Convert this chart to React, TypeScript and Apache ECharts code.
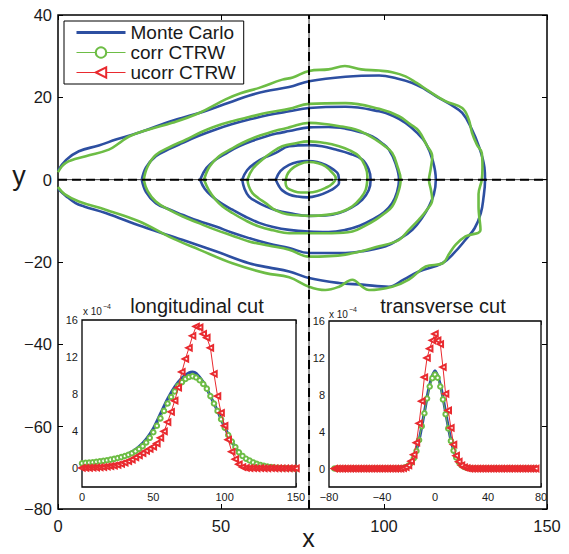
import React, { useEffect, useRef } from 'react';
import * as echarts from 'echarts';

const FONT = '"Liberation Sans", Arial, Helvetica, sans-serif';
const BLUE = '#2d4fa1';
const GREEN = '#6dbd45';
const RED = '#e92a2f';
const INK = '#1a1a1a';

const legendNames = ['Monte Carlo', 'corr CTRW', 'ucorr CTRW'];

// ---------- main plot: iso-contours (x, y) ----------
const mc1 = [[0,2.2],[2.5,4.8],[6.4,6.9],[12.5,8.3],[18,9.8],[22.8,10.9],[28,12.3],[33,13.8],[38,15],[43.3,16.2],[48.5,17.6],[53.5,19],[58.5,20.4],[63.7,21.5],[70.9,22.5],[77,23.9],[88.2,25],[98.5,25.3],[104,24.6],[108.7,23.5],[112.5,22],[115.9,20.3],[120.5,18.2],[124,16.2],[126.8,12.5],[129.1,8.1],[130.8,3],[131,0],[130.5,-4.5],[129.7,-8.1],[127.8,-11.8],[125,-14.6],[121.5,-17.8],[117.9,-20.3],[110.7,-22.3],[106,-24.3],[101.5,-26],[93.3,-25.5],[86.2,-25.1],[77,-23.9],[70.9,-22.3],[64.5,-21.3],[58.6,-20.3],[48.4,-17.4],[38.1,-14.6],[25.9,-11.4],[14.6,-8.1],[8,-6.5],[5.4,-5.7],[2.5,-4],[0,-2.2]];
const ct1 = [[0,1.8],[2.4,4.1],[8.5,5.7],[15.6,7.3],[19,9],[21.8,10.5],[27.9,12.2],[35,13.8],[43.3,16.2],[51.4,19.5],[56,21],[61.7,22.3],[68.8,24.3],[72,24.8],[77,26.4],[83,26.8],[88,27.6],[93,26.8],[98.5,26.5],[102.5,26.1],[106.6,25.1],[110,23.5],[113.8,21.5],[119,19],[124,17.4],[126,14.6],[127,11.4],[128.5,8.5],[130,6.5],[130.2,3],[130,0],[129,-3.5],[129,-6.5],[129.6,-12.2],[125,-13.8],[122,-15.8],[120,-18],[118,-20.3],[112.8,-21.1],[107.6,-24.3],[102.5,-26],[95.4,-26.8],[93.3,-26],[90.3,-24.3],[86.2,-26],[82,-26.8],[77,-26],[70.9,-23.7],[63.7,-22.7],[53.5,-20.3],[43.3,-17],[35,-14.2],[24.8,-10.1],[14.6,-7.3],[6.4,-5.3],[2,-3.5],[0,-1.8]];
const mc2 = [[25.7,0],[27,3],[30,5.7],[34,7.4],[38.1,8.9],[43,10.6],[48.4,12.2],[53.5,13.5],[58.6,14.6],[64.5,15.7],[70.9,16.6],[77,17.4],[88.2,17.7],[98.5,16.6],[103,15.4],[106.6,13.8],[110,11.5],[112.8,8.9],[115,4.5],[115.9,0],[115.3,-3.5],[113.8,-6.5],[111.5,-9.5],[108.7,-12.2],[105,-14.3],[100.5,-16.2],[94,-17.3],[88.2,-17.8],[77,-17.8],[70.9,-16.6],[64.5,-15.5],[58.6,-14.2],[53.5,-12.9],[48.4,-11.4],[43,-10],[38.1,-8.5],[34,-7.2],[30,-5.7],[27,-3],[25.7,0]];
const ct2 = [[26.3,0],[27.5,3.2],[30,6],[34.5,8],[39.2,9.7],[43.5,11.4],[48.4,13],[53.5,14.2],[58.6,15.2],[64.5,16.3],[70.9,17.2],[77,18.4],[88.2,18.6],[98.5,17.2],[104.6,15.4],[108,13.5],[110.7,11.8],[113,8.5],[114.8,5.7],[114.3,2.5],[113.8,0],[114.4,-2.5],[114.8,-4.9],[113,-7.5],[110.7,-9.7],[107.5,-12.3],[104.6,-14.6],[98.5,-16.2],[88.2,-18.2],[77,-18.7],[70.9,-17],[64.5,-16],[58.6,-15],[53.5,-13.6],[48.4,-12.2],[43,-10.5],[38.1,-8.9],[34,-7.3],[30,-5.3],[27.5,-2.8],[26.3,0]];
const mc3 = [[43.6,0],[45.5,2.8],[48.4,4.9],[52,6.6],[55.5,8.1],[59.5,9.4],[63.7,10.5],[67,11.2],[70.9,11.8],[77,12.7],[83,12.8],[88.2,12.4],[92.5,11.6],[96.4,10.5],[99.5,8.8],[101.5,7.3],[103.5,4],[104.6,0],[104,-3],[102.5,-5.7],[100,-7.9],[96.4,-9.7],[92.5,-11.2],[88.2,-12.2],[83,-12.7],[77,-12.6],[70.9,-12.2],[66,-11.5],[61.7,-10.5],[57.5,-9],[53.5,-7.3],[50,-5.7],[47.3,-4.1],[45,-2.2],[43.6,0]];
const ct3 = [[44.8,0],[46.5,3.2],[49.4,5.7],[53,7.4],[56.5,8.9],[60.5,10.3],[64.7,11.4],[67.8,12.1],[70.9,12.7],[77,13.8],[83.1,13.4],[87,12.9],[91.3,12.2],[94.5,11.1],[97.5,9.7],[100.2,8.2],[102.5,6.5],[104,3.5],[105.1,0],[104.2,-3.5],[102.5,-6.5],[100,-8.3],[97.5,-9.7],[94,-11.3],[90.3,-12.6],[84,-13],[77,-13],[70.9,-13],[66,-12.3],[61.7,-11.4],[57.5,-9.9],[53.5,-8.1],[50.5,-6.5],[48.4,-4.9],[46.3,-2.6],[44.8,0]];
const mc4 = [[56.5,0],[58,2.3],[60.6,4.1],[63.5,5.4],[66.8,6.5],[70.9,8.1],[77,8.4],[81,8.1],[85.2,7.3],[89.5,6.3],[93.3,4.9],[95.3,2.5],[95.9,0],[95.3,-2.6],[93.3,-4.9],[90,-6.8],[86.2,-8.1],[82,-8.7],[77,-8.8],[70.9,-8.1],[66.8,-7.4],[63.7,-6.5],[61,-5.4],[58.6,-4.1],[57.2,-2.2],[56.5,0]];
const ct4 = [[58.1,0],[59.8,2.7],[62.7,4.9],[65.5,6.6],[68.8,8.1],[72.5,8.8],[77,9.3],[82,8.9],[86.2,8.1],[89.5,7.1],[92.3,5.7],[94.2,3.3],[94.9,0.8],[94.4,-2.4],[92.5,-4.8],[90.3,-6.5],[87,-7.8],[83.1,-8.5],[77,-8.8],[72,-8.6],[68.8,-8.1],[66,-7.1],[63.7,-5.7],[61.5,-4.5],[59.6,-3.2],[58.5,-1.5],[58.1,0]];
const mc5 = [[66.8,0],[68.2,2.1],[70.9,3.6],[73.5,4.3],[76.5,4.5],[79.5,4.3],[82.1,3.6],[84.4,2.5],[86,1.2],[86.2,-0.8],[85,-1.9],[83.1,-2.8],[80,-3.8],[76.5,-4.3],[73.5,-4.1],[70.9,-3.6],[68.8,-2.6],[67.8,-1.6],[66.8,0]];
const ct5 = [[69.8,-0.8],[70.2,1],[71.4,2.4],[73.8,3.7],[77,4.3],[79.8,4],[82.1,3.2],[84,1.8],[85.2,0.4],[84,-1.1],[82.1,-2],[79.5,-2.8],[77,-3.1],[74.5,-3.1],[72.4,-2.8],[70.3,-2],[69.8,-0.8]];
const mcContours = [mc1, mc2, mc3, mc4, mc5];
const ctContours = [ct1, ct2, ct3, ct4, ct5];

// dashed cross-hairs (cut positions)
const cutX = 77;
const cutY = 0;

// ---------- inset 1: longitudinal cut (values x 1e-4) ----------
const longX = [0,2.5,5,7.5,10,12.5,15,17.5,20,22.5,25,27.5,30,32.5,35,37.5,40,42.5,45,47.5,50,52.5,55,57.5,60,62.5,65,67.5,70,72.5,75,77.5,80,82.5,85,87.5,90,92.5,95,97.5,100,102.5,105,107.5,110,112.5,115,117.5,120,122.5,125,127.5,130,132.5,135,137.5,140,142.5,145,147.5,150];
const longCorr = [0.55,0.6,0.63,0.67,0.72,0.77,0.82,0.88,0.95,1.03,1.12,1.22,1.34,1.48,1.64,1.85,2.1,2.4,2.8,3.3,3.9,4.6,5.4,6.2,7.0,7.7,8.3,8.9,9.3,9.65,9.85,9.95,9.8,9.5,9.1,8.6,7.8,7.0,6.2,5.3,4.4,3.6,2.9,2.3,1.75,1.35,1.05,0.85,0.65,0.5,0.38,0.28,0.2,0.14,0.09,0.06,0.04,0.03,0.02,0.01,0.01];
const longUcorr = [0.05,0.05,0.06,0.08,0.1,0.12,0.15,0.2,0.25,0.3,0.38,0.5,0.62,0.8,0.95,1.2,1.4,1.65,1.9,2.1,2.35,2.7,3.3,4.0,5.0,6.1,7.3,8.7,10.4,11.8,13.0,14.3,15.3,15.2,14.5,14.1,13.0,10.2,7.8,6.0,4.6,3.1,1.8,1.0,0.45,0.15,0.05,0.03,0.03,0.02,0.03,0.02,0.02,0.03,0.02,0.02,0.02,0.01,0.02,0.02,0.01];
const longMcX = [0,5,10,15,20,25,30,35,40,45,50,55,60,65,70,75,77.5,80,85,90,95,100,105,110,115,120,125,130,135,140,145,150];
const longMc = [0.5,0.6,0.7,0.82,0.97,1.17,1.42,1.8,2.35,3.15,4.3,5.9,7.5,8.8,9.75,10.3,10.4,10.25,9.3,7.8,6.2,4.45,2.9,1.75,1.05,0.62,0.36,0.19,0.09,0.04,0.02,0.01];

// ---------- inset 2: transverse cut (values x 1e-4) ----------
const transX = [-76,-74,-72,-70,-68,-66,-64,-62,-60,-58,-56,-54,-52,-50,-48,-46,-44,-42,-40,-38,-36,-34,-32,-30,-28,-26,-24,-22,-20,-18,-16,-14,-12,-10,-8,-6,-4,-2,0,2,4,6,8,10,12,14,16,18,20,22,24,26,28,30,32,34,36,38,40,42,44,46,48,50,52,54,56,58,60,62,64,66,68,70,72,74,76];
const transCorr = [0,0,0,0,0,0,0,0,0,0,0,0,0,0,0,0,0,0,0,0,0,0,0,0,0.01,0.03,0.07,0.15,0.32,0.62,1.12,1.9,3.1,4.6,6.0,7.6,8.9,9.8,10.2,9.85,8.9,7.5,5.9,4.35,3.0,1.95,1.2,0.68,0.36,0.17,0.08,0.03,0.01,0,0,0,0,0,0,0,0,0,0,0,0,0,0,0,0,0,0,0,0,0,0,0,0];
const transUcorr = [0,0,0,0,0,0,0,0,0,0,0,0,0,0,0,0,0,0,0,0,0,0,0,0,0,0,0.05,0.15,0.35,0.8,1.5,2.8,4.9,7.3,9.9,12.0,13.0,13.9,14.6,13.9,13.5,11.0,8.1,6.3,4.4,2.6,1.4,0.75,0.35,0.12,0.04,0,0,0,0,0,0,0,0,0,0,0,0,0,0,0,0,0,0,0,0,0,0,0,0,0,0];
const transMcX = [-76,-40,-32,-28,-24,-20,-16,-12,-8,-4,0,4,8,12,16,20,24,28,32,40,76];
const transMc = [0,0,0,0.01,0.08,0.34,1.2,3.1,6.1,9.1,10.6,9.1,6.1,3.1,1.2,0.35,0.08,0.01,0,0,0];

const insetYLabels = [0, 4, 8, 12, 16];
const insetYRightTicks = [2, 6, 10, 14];

const zip = (xs: number[], ys: number[]) => xs.map((x, i) => [x, ys[i]]);
const fmt = (v: number) => (v < 0 ? '\u2212' + Math.abs(v) : String(v));

const valueAxis = (extra: any) => ({
  type: 'value',
  axisLine: { show: false, onZero: false },
  splitLine: { show: false },
  axisTick: { show: true, inside: true, length: 5, lineStyle: { color: '#000', width: 1 } },
  axisLabel: { color: INK, fontFamily: FONT, formatter: fmt },
  ...extra,
});

export default function App() {
  const ref = useRef<HTMLDivElement>(null);
  useEffect(() => {
    document.body.style.margin = '0';
    const chart = echarts.init(ref.current!, null, { renderer: 'svg' });

    const series: any[] = [];
    mcContours.forEach((c, i) => {
      series.push({
        type: 'line', name: legendNames[0], xAxisIndex: 0, yAxisIndex: 0, data: c,
        smooth: 0.4, showSymbol: false, symbol: 'none', silent: true, z: 2,
        lineStyle: { color: BLUE, width: 2.6 }, itemStyle: { color: BLUE },
      });
      series.push({
        type: 'line', name: legendNames[1], xAxisIndex: 0, yAxisIndex: 0, data: ctContours[i],
        smooth: 0.4, showSymbol: false, symbol: 'emptyCircle', silent: true, z: 3,
        lineStyle: { color: GREEN, width: 2.6 }, itemStyle: { color: GREEN },
      });
    });
    // cross-hair lines
    const hLine = [[0, cutY], [150, cutY]];
    const vLine = [[cutX, -80], [cutX, 40]];
    [hLine, vLine].forEach((d) => {
      series.push({ type: 'line', xAxisIndex: 0, yAxisIndex: 0, data: d, symbol: 'none', silent: true, z: 4,
        lineStyle: { color: '#000', width: 0.8 } });
      series.push({ type: 'line', xAxisIndex: 0, yAxisIndex: 0, data: d, symbol: 'none', silent: true, z: 4,
        lineStyle: { color: '#000', width: 2, type: [9, 5] } });
    });
    // insets
    const insets = [
      { xi: 2, yi: 2, mc: zip(longMcX, longMc), corr: zip(longX, longCorr), ucorr: zip(longX, longUcorr) },
      { xi: 4, yi: 4, mc: zip(transMcX, transMc), corr: zip(transX, transCorr), ucorr: zip(transX, transUcorr) },
    ];
    insets.forEach((s) => {
      series.push({ type: 'line', name: legendNames[0], xAxisIndex: s.xi, yAxisIndex: s.yi, data: s.mc,
        smooth: 0.3, showSymbol: false, symbol: 'none', silent: true, z: 5,
        lineStyle: { color: BLUE, width: 3 } });
      series.push({ type: 'line', name: legendNames[1], xAxisIndex: s.xi, yAxisIndex: s.yi, data: s.corr,
        symbol: 'emptyCircle', symbolSize: 4.5, silent: true, z: 6,
        lineStyle: { color: GREEN, width: 1 }, itemStyle: { color: GREEN, borderWidth: 1 } });
      series.push({ type: 'line', name: legendNames[2], xAxisIndex: s.xi, yAxisIndex: s.yi, data: s.ucorr,
        symbol: 'emptyTriangle', symbolRotate: 90, symbolSize: 5.5, silent: true, z: 7,
        lineStyle: { color: RED, width: 1 }, itemStyle: { color: RED, borderWidth: 1.2 } });
    });

    const insetLabel = { fontSize: 11, margin: 4 };
    const gridBase = { show: true, borderColor: '#000', containLabel: false, outerBoundsMode: 'none' };
    const option: any = {
      animation: false,
      textStyle: { fontFamily: FONT },
      grid: [
        { ...gridBase, left: 58, top: 15, width: 489, height: 494, borderWidth: 1.5 },
        { ...gridBase, left: 82, top: 320, width: 214, height: 167, borderWidth: 1.3, backgroundColor: '#fff', z: 4 },
        { ...gridBase, left: 329, top: 321, width: 212, height: 166, borderWidth: 1.3, backgroundColor: '#fff', z: 4 },
      ],
      xAxis: [
        valueAxis({ gridIndex: 0, min: 0, max: 150, interval: 50, name: 'x', nameLocation: 'middle', nameGap: 16,
          nameMoveOverlap: false,
          nameTextStyle: { fontSize: 25, color: INK, fontFamily: FONT, padding: [0, 0, 0, 12] },
          axisLabel: { color: INK, fontFamily: FONT, fontSize: 16.5, margin: 8, formatter: fmt } }),
        valueAxis({ gridIndex: 0, min: 0, max: 150, interval: 50, position: 'top', axisLabel: { show: false } }),
        valueAxis({ gridIndex: 1, min: 0, max: 150, interval: 50, axisTick: { show: true, inside: true, length: 4 },
          axisLabel: { color: INK, fontFamily: FONT, formatter: fmt, ...insetLabel } }),
        valueAxis({ gridIndex: 1, min: 0, max: 150, interval: 50, position: 'top', axisTick: { show: true, inside: true, length: 4 }, axisLabel: { show: false } }),
        valueAxis({ gridIndex: 2, min: -80, max: 80, interval: 40, axisTick: { show: true, inside: true, length: 4 },
          axisLabel: { color: INK, fontFamily: FONT, formatter: fmt, ...insetLabel } }),
        valueAxis({ gridIndex: 2, min: -80, max: 80, interval: 40, position: 'top', axisTick: { show: true, inside: true, length: 4 }, axisLabel: { show: false } }),
      ],
      yAxis: [
        valueAxis({ gridIndex: 0, min: -80, max: 40, interval: 20,
          axisLabel: { color: INK, fontFamily: FONT, fontSize: 16.5, margin: 6, formatter: fmt } }),
        valueAxis({ gridIndex: 0, min: -80, max: 40, interval: 20, position: 'right', axisLabel: { show: false } }),
        valueAxis({ gridIndex: 1, min: -2, max: 16,
          axisTick: { show: true, inside: true, length: 4, customValues: insetYLabels },
          axisLabel: { color: INK, fontFamily: FONT, formatter: fmt, customValues: insetYLabels, ...insetLabel } }),
        valueAxis({ gridIndex: 1, min: -2, max: 16, position: 'right',
          axisTick: { show: true, inside: true, length: 4, customValues: insetYRightTicks }, axisLabel: { show: false } }),
        valueAxis({ gridIndex: 2, min: -2, max: 16,
          axisTick: { show: true, inside: true, length: 4, customValues: insetYLabels },
          axisLabel: { color: INK, fontFamily: FONT, formatter: fmt, customValues: insetYLabels, ...insetLabel } }),
        valueAxis({ gridIndex: 2, min: -2, max: 16, position: 'right',
          axisTick: { show: true, inside: true, length: 4, customValues: insetYRightTicks }, axisLabel: { show: false } }),
      ],
      legend: {
        orient: 'vertical', left: 64, top: 21, itemWidth: 49, itemHeight: 13, itemGap: 1,
        padding: [2, 8, 2, 11], borderColor: '#000', borderWidth: 1, backgroundColor: '#fff',
        selectedMode: false,
        textStyle: { fontSize: 19, color: INK, fontFamily: FONT },
        data: [
          { name: legendNames[0], itemStyle: { opacity: 0 }, lineStyle: { width: 3, color: BLUE } },
          { name: legendNames[1], itemStyle: { color: GREEN }, lineStyle: { width: 1, color: GREEN } },
          { name: legendNames[2], itemStyle: { color: RED }, lineStyle: { width: 1, color: RED } },
        ],
      },
      graphic: [
        { type: 'text', z: 10, style: { text: 'y', x: 19, y: 176, align: 'center', verticalAlign: 'middle', fontSize: 27, fontFamily: FONT, fill: INK } },
        { type: 'text', z: 10, style: { text: 'longitudinal cut', x: 197, y: 306, align: 'center', verticalAlign: 'middle', fontSize: 20, fontFamily: FONT, fill: INK } },
        { type: 'text', z: 10, style: { text: 'transverse cut', x: 443, y: 306, align: 'center', verticalAlign: 'middle', fontSize: 20, fontFamily: FONT, fill: INK } },
        { type: 'text', z: 10, style: { text: 'x 10', x: 83, y: 311, align: 'left', verticalAlign: 'middle', fontSize: 10, fontFamily: FONT, fill: INK } },
        { type: 'text', z: 10, style: { text: '\u22124', x: 103, y: 306, align: 'left', verticalAlign: 'middle', fontSize: 7, fontFamily: FONT, fill: INK } },
        { type: 'text', z: 10, style: { text: 'x 10', x: 329, y: 314, align: 'left', verticalAlign: 'middle', fontSize: 10, fontFamily: FONT, fill: INK } },
        { type: 'text', z: 10, style: { text: '\u22124', x: 349, y: 309, align: 'left', verticalAlign: 'middle', fontSize: 7, fontFamily: FONT, fill: INK } },
      ],
      series,
    };
    chart.setOption(option);
    return () => chart.dispose();
  }, []);
  return <div ref={ref} style={{ width: 569, height: 554 }} />;
}
